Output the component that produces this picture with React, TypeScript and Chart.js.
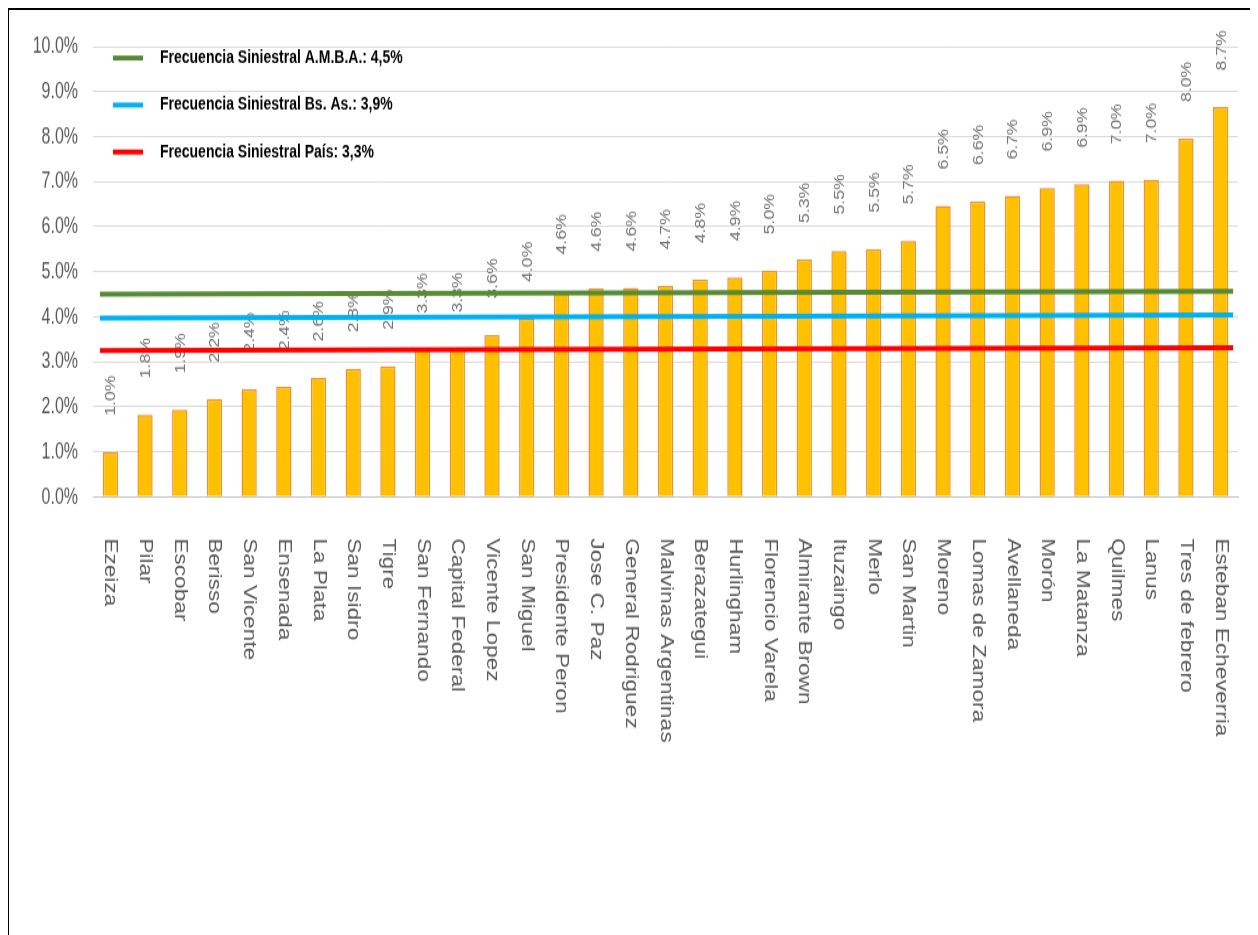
import { useEffect, useRef } from 'react';
import { Chart, registerables } from 'chart.js';

Chart.register(...registerables);

// vertical stretch of the whole picture (the reference is stretched vertically)
const STRETCH = 1.26;

const categories = [
  'Ezeiza', 'Pilar', 'Escobar', 'Berisso', 'San Vicente', 'Ensenada', 'La Plata',
  'San Isidro', 'Tigre', 'San Fernando', 'Capital Federal', 'Vicente Lopez',
  'San Miguel', 'Presidente Peron', 'Jose C. Paz', 'General Rodriguez',
  'Malvinas Argentinas', 'Berazategui', 'Hurlingham', 'Florencio Varela',
  'Almirante Brown', 'Ituzaingo', 'Merlo', 'San Martin', 'Moreno',
  'Lomas de Zamora', 'Avellaneda', 'Morón', 'La Matanza', 'Quilmes', 'Lanus',
  'Tres de febrero', 'Esteban Echeverria',
];

const frecuencia = [
  0.99, 1.82, 1.93, 2.17, 2.39, 2.44, 2.64, 2.84, 2.9, 3.26, 3.28, 3.59, 3.96,
  4.57, 4.63, 4.64, 4.68, 4.82, 4.87, 5.02, 5.27, 5.46, 5.5, 5.68, 6.46, 6.56,
  6.68, 6.86, 6.94, 7.02, 7.04, 7.96, 8.66,
];

// reference lines: start / end along the category axis (index units)
const lineX = [-0.3, 32.36];
const ambaLine = [4.5, 4.56];
const bsasLine = [3.97, 4.04];
const paisLine = [3.25, 3.31];

const legendLabels = [
  'Frecuencia Siniestral A.M.B.A.: 4,5%',
  'Frecuencia Siniestral Bs. As.: 3,9%',
  'Frecuencia Siniestral País: 3,3%',
];
const lineColors = ['#588A36', '#00B0F0', '#FF0000'];

const Y_MIN = 0;
const Y_MAX = 10;
const Y_STEP = 1;

const pct = (v: number) => v.toFixed(1) + '%';

const textPlugin = {
  id: 'customText',
  afterDatasetDraw(chart: any, args: any) {
    if (args.index !== 0) return;
    const ctx = chart.ctx;
    ctx.save();
    ctx.font = '14px "Liberation Sans", Arial, sans-serif';
    ctx.fillStyle = '#737373';
    ctx.textAlign = 'left';
    ctx.textBaseline = 'middle';
    args.meta.data.forEach((bar: any, i: number) => {
      const { x, y } = bar.getProps(['x', 'y'], true);
      ctx.save();
      ctx.translate(x + 1, y - 29);
      ctx.rotate(-Math.PI / 2);
      ctx.fillText(pct(frecuencia[i]), 0, 0);
      ctx.restore();
    });
    ctx.restore();
  },
  afterDraw(chart: any) {
    const { ctx, chartArea } = chart;
    const xs = chart.scales.x;
    const ys = chart.scales.y;
    ctx.save();
    // y tick labels (taller, narrow-looking digits)
    ctx.font = '16px "Liberation Sans", Arial, sans-serif';
    ctx.fillStyle = '#595959';
    ctx.textAlign = 'right';
    ctx.textBaseline = 'middle';
    ys.ticks.forEach((t: any) => {
      ctx.save();
      ctx.translate(chartArea.left - 15, ys.getPixelForValue(t.value));
      ctx.scale(1, 1.2);
      ctx.fillText(pct(t.value), 0, 0);
      ctx.restore();
    });
    // x category labels, rotated clockwise
    ctx.font = '18px "Liberation Sans", Arial, sans-serif';
    ctx.fillStyle = '#595959';
    ctx.textAlign = 'left';
    categories.forEach((c, i) => {
      const x = xs.getPixelForValue(i);
      ctx.save();
      ctx.translate(x, chartArea.bottom + 33);
      ctx.rotate(Math.PI / 2);
      ctx.fillText(c, 0, 0);
      ctx.restore();
    });
    // legend
    const rows = [9.1, 46.4, 83.7];
    ctx.font = 'bold 14px "Liberation Sans", Arial, sans-serif';
    ctx.textAlign = 'left';
    legendLabels.forEach((lab, i) => {
      const y = chartArea.top + rows[i];
      ctx.strokeStyle = lineColors[i];
      ctx.lineWidth = 4;
      ctx.lineCap = 'butt';
      ctx.beginPath();
      ctx.moveTo(chartArea.left + 20, y);
      ctx.lineTo(chartArea.left + 50, y);
      ctx.stroke();
      ctx.fillStyle = '#000';
      ctx.fillText(lab, chartArea.left + 67, y);
    });
    ctx.restore();
  },
};

export default function App() {
  const ref = useRef<HTMLCanvasElement>(null);

  useEffect(() => {
    document.documentElement.style.overflow = 'hidden';
    document.body.style.overflow = 'hidden';
    const mkLine = (vals: number[], i: number) => ({
      type: 'line' as const,
      label: legendLabels[i],
      data: lineX.map((x, k) => ({ x, y: vals[k] })),
      borderColor: lineColors[i],
      backgroundColor: lineColors[i],
      borderWidth: 4,
      pointRadius: 0,
      tension: 0,
      borderCapStyle: 'butt' as const,
      order: i + 1,
    });
    const chart = new Chart(ref.current!, {
      type: 'bar',
      data: {
        datasets: [
          {
            type: 'bar',
            label: 'Frecuencia',
            data: frecuencia.map((v, i) => ({ x: i, y: v })),
            backgroundColor: '#FFC000',
            borderColor: '#F0922B',
            borderWidth: 1.5,
            barPercentage: 0.44,
            categoryPercentage: 1,
            order: 10,
          } as any,
          mkLine(ambaLine, 0),
          mkLine(bsasLine, 1),
          mkLine(paisLine, 2),
        ],
      },
      options: {
        animation: false,
        responsive: true,
        maintainAspectRatio: false,
        layout: { padding: { left: 84, top: 29, right: 14, bottom: 341.7 } },
        plugins: { legend: { display: false }, tooltip: { enabled: false } },
        scales: {
          x: {
            type: 'linear',
            min: -0.5,
            max: categories.length - 0.5,
            offset: false,
            grid: { display: false, drawTicks: false, offset: false },
            border: { display: true, color: '#bfbfbf', width: 1 },
            ticks: { display: false, stepSize: 1 },
          },
          y: {
            min: Y_MIN,
            max: Y_MAX,
            ticks: { stepSize: Y_STEP, display: false },
            grid: { color: '#d9d9d9', drawTicks: false },
            border: { display: false },
          },
        },
      } as any,
      plugins: [textPlugin],
    });
    return () => chart.destroy();
  }, []);

  return (
    <div
      style={{
        marginLeft: -2,
        marginTop: -1,
        width: 1243,
        height: 935,
        borderTop: '3px solid #000',
        borderLeft: '3px solid #000',
        borderRight: '3px solid #000',
        overflow: 'hidden',
        background: '#fff',
      }}
    >
      <div
        style={{
          width: 1243,
          height: 728,
          transform: `scaleY(${STRETCH})`,
          transformOrigin: '0 0',
        }}
      >
        <canvas ref={ref} />
      </div>
    </div>
  );
}
